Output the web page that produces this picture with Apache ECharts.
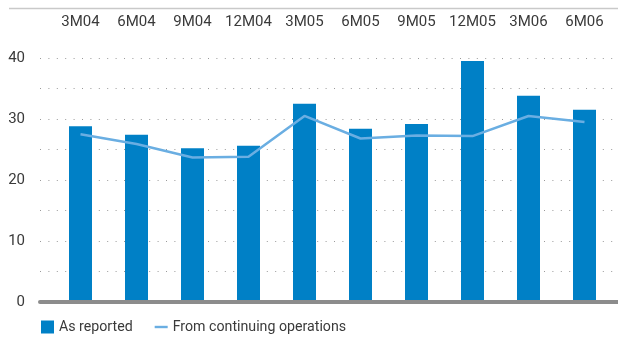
<!DOCTYPE html>
<html>
<head>
<meta charset="utf-8">
<script src="https://cdn.jsdelivr.net/npm/echarts@6/dist/echarts.min.js"></script>
<style>
  html, body { margin: 0; padding: 0; background: #fff; }
  #chart { width: 618px; height: 337px; }
</style>
</head>
<body>
<div id="chart"></div>
<script>
// Periods (cumulative months per year)
var categories = ['3M04', '6M04', '9M04', '12M04', '3M05', '6M05', '9M05', '12M05', '3M06', '6M06'];
// Values as reported
var asReported = [28.8, 27.4, 25.2, 25.6, 32.5, 28.4, 29.2, 39.5, 33.8, 31.5];
// Values from continuing operations
var continuingOps = [27.5, 25.9, 23.7, 23.8, 30.5, 26.8, 27.3, 27.2, 30.5, 29.5];
// Value axis range and tick labels
var yMin = 0, yMax = 40, yStep = 5;
var yTickLabels = ['0', '10', '20', '30', '40'];

var FONT = 'Roboto, sans-serif';
var TEXT = '#3a3a3a';

var chart = echarts.init(document.getElementById('chart'), null, { renderer: 'canvas' });

chart.setOption({
  animation: false,
  backgroundColor: '#ffffff',
  textStyle: { fontFamily: FONT },
  graphic: [{
    type: 'line',
    shape: { x1: 9, y1: 8.5, x2: 618, y2: 8.5 },
    style: { stroke: '#c9c9c9', lineWidth: 1.5 }
  }],
  legend: {
    left: 36, top: 315,
    itemWidth: 13, itemHeight: 13, itemGap: 22,
    symbolKeepAspect: true,
    textStyle: { fontFamily: FONT, fontSize: 14.2, color: TEXT },
    data: [
      { name: 'As reported', icon: 'rect' },
      { name: 'From continuing operations', icon: 'path://M0,0L13,0L13,2.4L0,2.4Z' }
    ]
  },
  grid: [
    // background grid: dotted guides and the baseline
    { left: 40, right: 0, top: 58, bottom: 35 },
    // data grid
    { left: 52.5, width: 560, top: 58, bottom: 35 }
  ],
  xAxis: [
    {
      gridIndex: 0, type: 'value', min: 0, max: 1, z: 5,
      axisLine: { show: true, onZero: false, lineStyle: { color: '#8c8c8c', width: 4 } },
      axisTick: { show: false }, axisLabel: { show: false }, splitLine: { show: false }
    },
    {
      gridIndex: 1, type: 'category', data: categories, position: 'top',
      axisLine: { show: false }, axisTick: { show: false },
      axisLabel: { fontFamily: FONT, fontSize: 15, color: TEXT, margin: 28, interval: 0 },
      splitLine: { show: false }
    }
  ],
  yAxis: [
    {
      gridIndex: 0, type: 'value', min: yMin, max: yMax, interval: yStep,
      axisLine: { show: false }, axisTick: { show: false },
      axisLabel: {
        fontFamily: FONT, fontSize: 15, color: TEXT, margin: 15,
        formatter: function (v) {
          var s = String(v);
          return yTickLabels.indexOf(s) >= 0 ? s : '';
        }
      },
      splitLine: { show: true, lineStyle: { color: '#9a9a9a', width: 1, type: [1, 7.4] } }
    },
    {
      gridIndex: 1, type: 'value', min: yMin, max: yMax, interval: yStep,
      axisLine: { show: false }, axisTick: { show: false },
      axisLabel: { show: false }, splitLine: { show: false }
    }
  ],
  series: [
    {
      name: 'As reported', type: 'bar', xAxisIndex: 1, yAxisIndex: 1,
      data: asReported, barWidth: 23,
      itemStyle: { color: '#0080c6' }
    },
    {
      name: 'From continuing operations', type: 'line', xAxisIndex: 1, yAxisIndex: 1,
      data: continuingOps, showSymbol: false, symbol: 'none',
      lineStyle: { color: '#6aaee2', width: 2.5 },
      itemStyle: { color: '#6aaee2' }
    }
  ]
});
</script>
</body>
</html>
